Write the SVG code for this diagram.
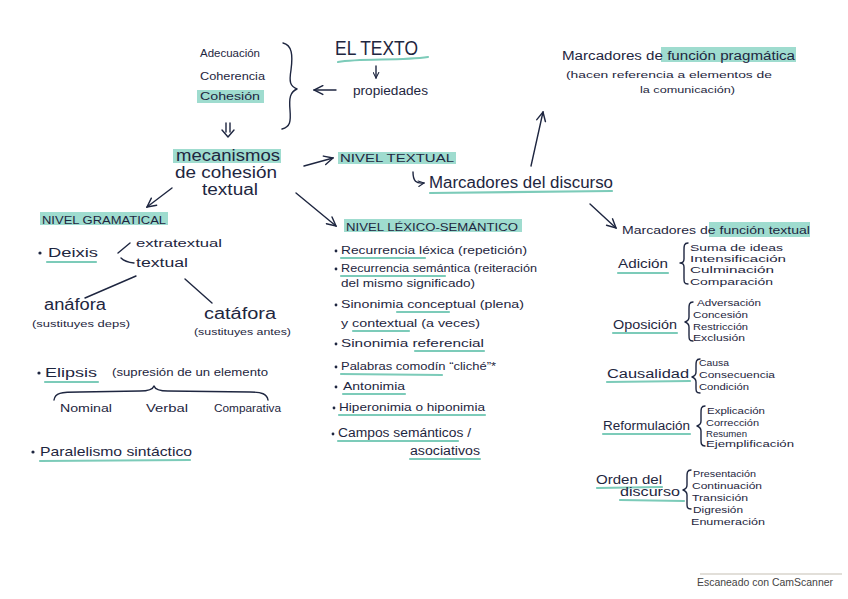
<svg xmlns="http://www.w3.org/2000/svg" width="848" height="599" viewBox="0 0 848 599">
<style>
.t{font-family:"Liberation Sans",Arial,sans-serif;fill:#1e2640}
.s9{font-size:9px}.s10{font-size:10px}.s11{font-size:11px}.s12{font-size:12px}.s13{font-size:13px}.s16{font-size:16px}.s20{font-size:20px}
.hl{fill:#9fdccf}
.ul{stroke:#7ccbb9;stroke-width:2.2;fill:none;stroke-linecap:round}
.ink{stroke:#1e2640;stroke-width:1.4;fill:none;stroke-linecap:round;stroke-linejoin:round}
.dot{fill:#1e2640}
.cs{font-family:"Liberation Sans",Arial,sans-serif;font-size:11px;fill:#444}
</style>
<defs>
<marker id="ah" viewBox="0 0 10 10" refX="9" refY="5" markerWidth="7" markerHeight="7" orient="auto" markerUnits="userSpaceOnUse">
<path d="M1,1 L9,5 L1,9" fill="none" stroke="#1e2640" stroke-width="1.5" stroke-linecap="round"/>
</marker>
<marker id="ahL" viewBox="0 0 10 10" refX="9" refY="5" markerWidth="11" markerHeight="11" orient="auto" markerUnits="userSpaceOnUse">
<path d="M1,1 L9,5 L1,9" fill="none" stroke="#1e2640" stroke-width="1.3" stroke-linecap="round"/>
</marker>
</defs>
<rect width="848" height="599" fill="#ffffff"/>

<g id="connectors">
<line class="ink" x1="376" y1="66" x2="376" y2="78" marker-end="url(#ah)"/>
<line class="ink" x1="336" y1="90" x2="314" y2="90" marker-end="url(#ahL)"/>
<path class="ink" d="M226,123 L226,132 M230,123 L230,132 M222,130 L228,137 L234,130"/>
<line class="ink" x1="304" y1="166" x2="333" y2="158" marker-end="url(#ahL)"/>
<path class="ink" d="M413,172 C413,181 416,184 424,183" marker-end="url(#ah)"/>
<line class="ink" x1="531" y1="166" x2="543" y2="112" marker-end="url(#ahL)"/>
<line class="ink" x1="172" y1="188" x2="147" y2="207" marker-end="url(#ahL)"/>
<line class="ink" x1="296" y1="193" x2="336" y2="226" marker-end="url(#ahL)"/>
<line class="ink" x1="590" y1="204" x2="616" y2="228" marker-end="url(#ahL)"/>
<path class="ink" d="M118,253 L130,243 M121,258 Q125,262 134,263"/>
<path class="ink" d="M136,276 L85,298 M185,279 L212,303"/>
</g>

<g id="propiedades-lista">
<text class="t s11" x="200" y="57" textLength="60" lengthAdjust="spacingAndGlyphs">Adecuación</text>
<text class="t s11" x="200" y="80" textLength="65" lengthAdjust="spacingAndGlyphs">Coherencia</text>
<rect class="hl" x="197" y="90" width="67" height="13"/>
<text class="t s11" x="200" y="100" textLength="60" lengthAdjust="spacingAndGlyphs">Cohesión</text>
<path class="ink" d="M283,43 C292,45 293,55 291,70 C289,82 290,86 297,89 C290,92 289,98 290,110 C291,122 290,127 282,129"/>
</g>

<g id="el-texto">
<text class="t s20" x="335" y="55" textLength="83" lengthAdjust="spacingAndGlyphs">EL TEXTO</text>
<path class="ul" d="M338,62 C360,58 400,61 428,57"/>
<text class="t s12" x="353" y="95" textLength="75" lengthAdjust="spacingAndGlyphs">propiedades</text>
</g>

<g id="mecanismos">
<rect class="hl" x="173" y="149" width="108" height="14"/>
<text class="t s16" x="176" y="161" textLength="104" lengthAdjust="spacingAndGlyphs">mecanismos</text>
<text class="t s16" x="175" y="178" textLength="102" lengthAdjust="spacingAndGlyphs">de cohesión</text>
<text class="t s16" x="202" y="195" textLength="56" lengthAdjust="spacingAndGlyphs">textual</text>
</g>

<g id="nivel-textual">
<rect class="hl" x="338" y="152" width="118" height="12"/>
<text class="t s10" x="340" y="162" textLength="114" lengthAdjust="spacingAndGlyphs">NIVEL TEXTUAL</text>
</g>

<g id="marcadores-discurso">
<text class="t s16" x="429" y="188" textLength="184" lengthAdjust="spacingAndGlyphs">Marcadores del discurso</text>
<path class="ul" d="M430,193 L612,191"/>
</g>

<g id="funcion-pragmatica">
<rect class="hl" x="661" y="47" width="135" height="15"/>
<text class="t s12" x="562" y="60" textLength="233" lengthAdjust="spacingAndGlyphs">Marcadores de función pragmática</text>
<text class="t s9" x="566" y="78" textLength="206" lengthAdjust="spacingAndGlyphs">(hacen referencia a elementos de</text>
<text class="t s9" x="640" y="93" textLength="95" lengthAdjust="spacingAndGlyphs">la comunicación)</text>
</g>

<g id="nivel-gramatical">
<rect class="hl" x="40" y="212" width="128" height="13"/>
<text class="t s10" x="42" y="224" textLength="124" lengthAdjust="spacingAndGlyphs">NIVEL GRAMATICAL</text>
<circle class="dot" cx="40" cy="253" r="1.6"/>
<text class="t s13" x="48" y="257" textLength="50" lengthAdjust="spacingAndGlyphs">Deixis</text>
<path class="ul" d="M47,262 L96,262"/>
<text class="t s11" x="136" y="247" textLength="86" lengthAdjust="spacingAndGlyphs">extratextual</text>
<text class="t s12" x="136" y="267" textLength="52" lengthAdjust="spacingAndGlyphs">textual</text>
<text class="t s16" x="44" y="310" textLength="62" lengthAdjust="spacingAndGlyphs">anáfora</text>
<text class="t s9" x="32" y="327" textLength="98" lengthAdjust="spacingAndGlyphs">(sustituyes deps)</text>
<text class="t s16" x="204" y="319" textLength="72" lengthAdjust="spacingAndGlyphs">catáfora</text>
<text class="t s9" x="194" y="335" textLength="97" lengthAdjust="spacingAndGlyphs">(sustituyes antes)</text>
<circle class="dot" cx="39" cy="373" r="1.6"/>
<text class="t s13" x="45" y="377" textLength="52" lengthAdjust="spacingAndGlyphs">Elipsis</text>
<path class="ul" d="M45,382 L98,382"/>
<text class="t s10" x="112" y="376" textLength="156" lengthAdjust="spacingAndGlyphs">(supresión de un elemento</text>
<path class="ink" d="M54,400 C55,393 60,392 80,392 L140,391 C150,391 153,389 154,386 C155,389 158,391 168,391 L250,392 C262,392 267,394 268,400"/>
<text class="t s10" x="60" y="412" textLength="52" lengthAdjust="spacingAndGlyphs">Nominal</text>
<text class="t s10" x="146" y="412" textLength="42" lengthAdjust="spacingAndGlyphs">Verbal</text>
<text class="t s10" x="214" y="412" textLength="67" lengthAdjust="spacingAndGlyphs">Comparativa</text>
<circle class="dot" cx="33" cy="452" r="1.6"/>
<text class="t s13" x="40" y="456" textLength="152" lengthAdjust="spacingAndGlyphs">Paralelismo sintáctico</text>
<path class="ul" d="M40,461 L190,460"/>
</g>

<g id="nivel-lexico-semantico">
<rect class="hl" x="344" y="219" width="178" height="13"/>
<text class="t s10" x="346" y="231" textLength="172" lengthAdjust="spacingAndGlyphs">NIVEL LÉXICO-SEMÁNTICO</text>
<circle class="dot" cx="336" cy="251" r="1.4"/>
<text class="t s10" x="341" y="254" textLength="186" lengthAdjust="spacingAndGlyphs">Recurrencia léxica (repetición)</text>
<path class="ul" d="M341,258 L425,258"/>
<circle class="dot" cx="336" cy="269" r="1.4"/>
<text class="t s10" x="341" y="272" textLength="196" lengthAdjust="spacingAndGlyphs">Recurrencia semántica (reiteración</text>
<path class="ul" d="M341,276 L445,276"/>
<text class="t s10" x="341" y="287" textLength="134" lengthAdjust="spacingAndGlyphs">del mismo significado)</text>
<circle class="dot" cx="336" cy="305" r="1.4"/>
<text class="t s11" x="341" y="308" textLength="183" lengthAdjust="spacingAndGlyphs">Sinonimia conceptual (plena)</text>
<path class="ul" d="M397,312 L449,312"/>
<text class="t s11" x="341" y="327" textLength="139" lengthAdjust="spacingAndGlyphs">y contextual (a veces)</text>
<path class="ul" d="M353,331 L409,331"/>
<circle class="dot" cx="336" cy="344" r="1.4"/>
<text class="t s11" x="341" y="347" textLength="143" lengthAdjust="spacingAndGlyphs">Sinonimia referencial</text>
<path class="ul" d="M415,351 L484,351"/>
<circle class="dot" cx="336" cy="367" r="1.4"/>
<text class="t s11" x="341" y="370" textLength="155" lengthAdjust="spacingAndGlyphs">Palabras comodín “cliché”*</text>
<path class="ul" d="M341,374 L442,375"/>
<circle class="dot" cx="336" cy="387" r="1.4"/>
<text class="t s11" x="343" y="390" textLength="62" lengthAdjust="spacingAndGlyphs">Antonimia</text>
<path class="ul" d="M343,394 L405,394"/>
<circle class="dot" cx="334" cy="408" r="1.4"/>
<text class="t s11" x="339" y="411" textLength="146" lengthAdjust="spacingAndGlyphs">Hiperonimia o hiponimia</text>
<path class="ul" d="M339,415 L485,415"/>
<circle class="dot" cx="333" cy="434" r="1.4"/>
<text class="t s12" x="338" y="437" textLength="133" lengthAdjust="spacingAndGlyphs">Campos semánticos /</text>
<path class="ul" d="M338,441 L458,441"/>
<text class="t s12" x="410" y="455" textLength="70" lengthAdjust="spacingAndGlyphs">asociativos</text>
<path class="ul" d="M410,459 L480,459"/>
</g>

<g id="funcion-textual">
<rect class="hl" x="709" y="222" width="101" height="15"/>
<text class="t s11" x="622" y="234" textLength="188" lengthAdjust="spacingAndGlyphs">Marcadores de función textual</text>
</g>

<g id="adicion">
<text class="t s12" x="618" y="268" textLength="50" lengthAdjust="spacingAndGlyphs">Adición</text>
<path class="ul" d="M618,273 L668,273"/>
<path class="ink" d="M688,243 C684,243 684,246 684,250 L684,259 C684,262 683,263 680,263 C683,263 684,264 684,267 L684,278 C684,282 684,284 688,284"/>
<text class="t s9" x="690" y="251" textLength="93" lengthAdjust="spacingAndGlyphs">Suma de ideas</text>
<text class="t s9" x="690" y="262" textLength="96" lengthAdjust="spacingAndGlyphs">Intensificación</text>
<text class="t s9" x="690" y="273" textLength="84" lengthAdjust="spacingAndGlyphs">Culminación</text>
<text class="t s9" x="690" y="285" textLength="83" lengthAdjust="spacingAndGlyphs">Comparación</text>
</g>

<g id="oposicion">
<text class="t s12" x="613" y="329" textLength="64" lengthAdjust="spacingAndGlyphs">Oposición</text>
<path class="ul" d="M613,333 L677,333"/>
<path class="ink" d="M693,302 C689,302 689,305 689,309 L689,317 C689,320 688,321 685,322 C688,323 689,324 689,327 L689,335 C689,339 689,341 693,341"/>
<text class="t s9" x="697" y="306" textLength="64" lengthAdjust="spacingAndGlyphs">Adversación</text>
<text class="t s9" x="693" y="318" textLength="55" lengthAdjust="spacingAndGlyphs">Concesión</text>
<text class="t s9" x="693" y="330" textLength="55" lengthAdjust="spacingAndGlyphs">Restricción</text>
<text class="t s9" x="693" y="341" textLength="52" lengthAdjust="spacingAndGlyphs">Exclusión</text>
</g>

<g id="causalidad">
<text class="t s12" x="607" y="378" textLength="82" lengthAdjust="spacingAndGlyphs">Causalidad</text>
<path class="ul" d="M607,382 L690,381"/>
<path class="ink" d="M700,359 C696,359 696,362 696,366 L696,372 C696,375 695,376 692,377 C695,378 696,379 696,382 L696,388 C696,391 696,393 700,393"/>
<text class="t s9" x="699" y="366" textLength="30" lengthAdjust="spacingAndGlyphs">Causa</text>
<text class="t s9" x="699" y="378" textLength="76" lengthAdjust="spacingAndGlyphs">Consecuencia</text>
<text class="t s9" x="699" y="390" textLength="50" lengthAdjust="spacingAndGlyphs">Condición</text>
</g>

<g id="reformulacion">
<text class="t s12" x="603" y="430" textLength="87" lengthAdjust="spacingAndGlyphs">Reformulación</text>
<path class="ul" d="M603,434 L690,434"/>
<path class="ink" d="M705,406 C701,406 701,409 701,413 L701,421 C701,424 700,425 697,426 C700,427 701,428 701,431 L701,440 C701,443 701,446 705,446"/>
<text class="t s9" x="707" y="414" textLength="58" lengthAdjust="spacingAndGlyphs">Explicación</text>
<text class="t s9" x="706" y="426" textLength="53" lengthAdjust="spacingAndGlyphs">Corrección</text>
<text class="t s9" x="706" y="437" textLength="41" lengthAdjust="spacingAndGlyphs">Resumen</text>
<text class="t s9" x="706" y="447" textLength="88" lengthAdjust="spacingAndGlyphs">Ejemplificación</text>
</g>

<g id="orden-discurso">
<text class="t s12" x="596" y="484" textLength="66" lengthAdjust="spacingAndGlyphs">Orden del</text>
<path class="ul" d="M597,488 L662,487"/>
<text class="t s12" x="620" y="496" textLength="60" lengthAdjust="spacingAndGlyphs">discurso</text>
<path class="ul" d="M620,500 L684,501"/>
<path class="ink" d="M691,470 C687,470 687,473 687,477 L687,485 C687,488 686,489 683,490 C686,491 687,492 687,495 L687,504 C687,507 687,509 691,509"/>
<text class="t s9" x="693" y="477" textLength="63" lengthAdjust="spacingAndGlyphs">Presentación</text>
<text class="t s9" x="692" y="489" textLength="70" lengthAdjust="spacingAndGlyphs">Continuación</text>
<text class="t s9" x="692" y="501" textLength="56" lengthAdjust="spacingAndGlyphs">Transición</text>
<text class="t s9" x="693" y="513" textLength="50" lengthAdjust="spacingAndGlyphs">Digresión</text>
<text class="t s9" x="691" y="525" textLength="74" lengthAdjust="spacingAndGlyphs">Enumeración</text>
</g>

<g id="camscanner">
<line x1="700" y1="574" x2="842" y2="574" stroke="#d8d4cc" stroke-width="1.5"/>
<text class="cs" x="697" y="586" textLength="136" lengthAdjust="spacingAndGlyphs">Escaneado con CamScanner</text>
</g>
</svg>
